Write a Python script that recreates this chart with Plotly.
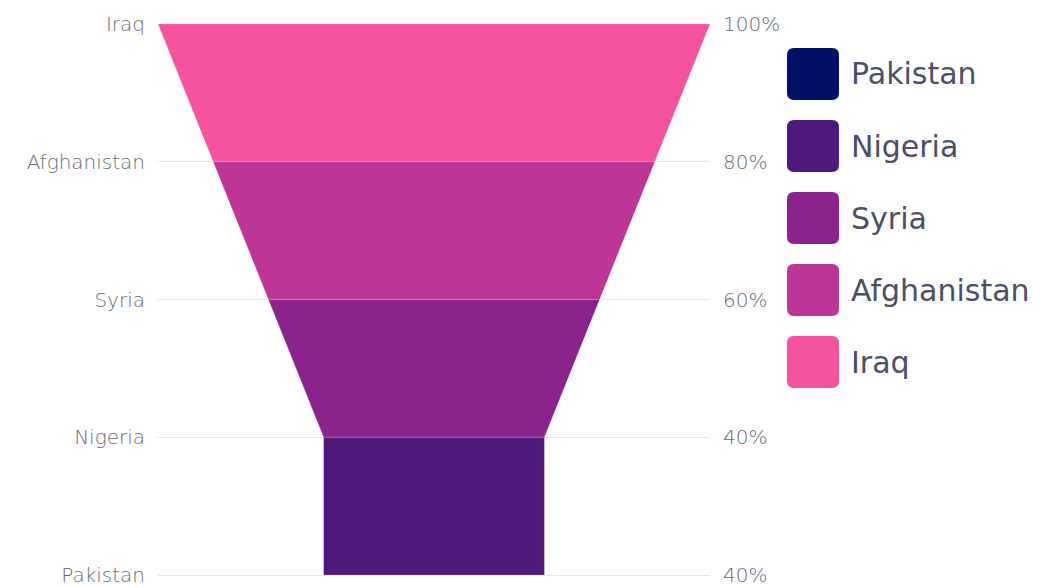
import plotly.graph_objects as go

# Funnel stages, top to bottom, with their share of the first stage (%)
countries = ["Iraq", "Afghanistan", "Syria", "Nigeria", "Pakistan"]
values = [100, 80, 60, 40, 40]
colors = ["#F7529E", "#BD3595", "#8A238C", "#4F1A7A", "#001065"]
value_labels = [f"{v}%" for v in values]

fig = go.Figure()

# Each slice is a trapezoid from its own width down to the next stage's width
n = len(countries)
for i in range(n - 1):
    top, bot = values[i] / 2, values[i + 1] / 2
    fig.add_trace(go.Scatter(
        x=[-top, top, bot, -bot, -top],
        y=[i, i, i + 1, i + 1, i],
        mode="lines",
        fill="toself",
        fillcolor=colors[i],
        line=dict(color="rgba(255,255,255,0.18)", width=1),
        hoverinfo="text",
        text=f"{countries[i]}: {value_labels[i]}",
        showlegend=False,
    ))

# Invisible trace to bind the right-hand axis
fig.add_trace(go.Scatter(x=[0], y=[0], yaxis="y2", mode="markers",
                         marker=dict(opacity=0), showlegend=False, hoverinfo="skip"))

axis_font = dict(family="DejaVu Sans", size=20, color="#6A6A78", weight=300)
grid = "#E6E6EA"

# Plot area geometry (pixels)
W, H = 1046, 587
ml, mr = 158, 336
top_px, stage_px = 24.0, 137.75  # first stage line and vertical pixels per stage
edge = 4.0                       # plot area extends a little past first/last line
mt = top_px - edge
mb = H - (top_px + (n - 1) * stage_px) - edge
pw, ph = W - ml - mr, H - mt - mb
pad = edge / stage_px

fig.update_layout(
    width=W, height=H,
    margin=dict(l=ml, r=mr, t=mt, b=mb, autoexpand=False),
    paper_bgcolor="white", plot_bgcolor="white",
    xaxis=dict(range=[-50, 50], visible=False, fixedrange=True, automargin=False),
    yaxis=dict(
        range=[n - 1 + pad, -pad], tickmode="array", tickvals=list(range(n)),
        ticktext=countries, showgrid=True, gridcolor=grid, gridwidth=1,
        zeroline=False, showline=False, ticks="", ticklabelstandoff=12,
        ticklabeloverflow="allow", tickfont=axis_font, automargin=False,
    ),
    yaxis2=dict(
        range=[n - 1 + pad, -pad], overlaying="y", side="right", tickmode="array",
        tickvals=list(range(n)), ticktext=value_labels, showgrid=False,
        zeroline=False, showline=False, ticks="", ticklabelstandoff=12,
        ticklabeloverflow="allow", tickfont=axis_font, automargin=False,
    ),
)


def px_x(px):
    return (px - ml) / pw


def px_y(py):
    return 1 - (py - mt) / ph


# Legend: large rounded swatches listed bottom stage first
sw, rad = 52, 7
sx0 = 787
first_c, step = 74, 72
for k, idx in enumerate(reversed(range(n))):
    cy = first_c + k * step
    a, b = px_x(sx0), px_x(sx0 + sw)
    rx = px_x(sx0 + rad) - px_x(sx0)
    ry = px_y(cy - sw / 2) - px_y(cy - sw / 2 + rad)
    t, btm = px_y(cy - sw / 2), px_y(cy + sw / 2)
    path = (f"M {a + rx},{btm} L {b - rx},{btm} Q {b},{btm} {b},{btm + ry} "
            f"L {b},{t - ry} Q {b},{t} {b - rx},{t} L {a + rx},{t} "
            f"Q {a},{t} {a},{t - ry} L {a},{btm + ry} Q {a},{btm} {a + rx},{btm} Z")
    fig.add_shape(type="path", path=path, xref="paper", yref="paper",
                  fillcolor=colors[idx], line=dict(width=0))
    fig.add_annotation(
        x=px_x(sx0 + sw + 10), y=px_y(cy), xref="paper", yref="paper",
        text=countries[idx], showarrow=False, xanchor="left", yanchor="middle",
        font=dict(family="DejaVu Sans", size=30, color="#4B5068"),
    )

fig.write_html("out.html")
